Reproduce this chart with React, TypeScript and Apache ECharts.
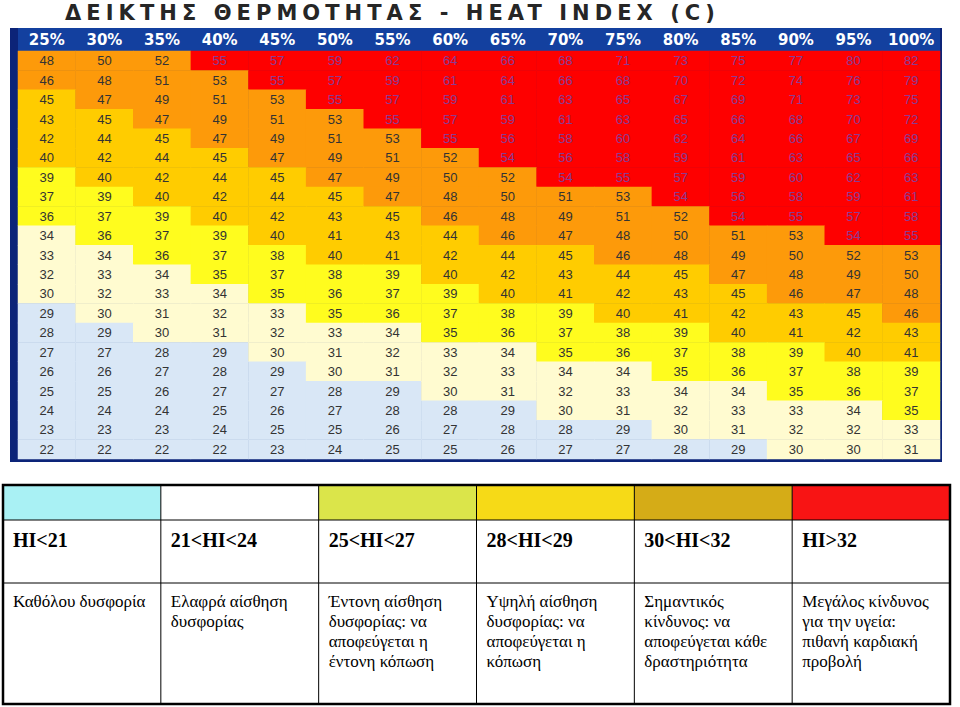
import React, { useEffect, useRef } from "react";
import * as echarts from "echarts";

// ---------- data ----------
const TITLE = "ΔΕΙΚΤΗΣ ΘΕΡΜΟΤΗΤΑΣ - HEAT INDEX (C)";

const humidityLabels = [
  "25%", "30%", "35%", "40%", "45%", "50%", "55%", "60%",
  "65%", "70%", "75%", "80%", "85%", "90%", "95%", "100%",
];

const rowIds = [
  "r1", "r2", "r3", "r4", "r5", "r6", "r7", "r8", "r9", "r10", "r11",
  "r12", "r13", "r14", "r15", "r16", "r17", "r18", "r19", "r20", "r21",
];

const heatIndexRows: number[][] = [
  [48, 50, 52, 55, 57, 59, 62, 64, 66, 68, 71, 73, 75, 77, 80, 82],
  [46, 48, 51, 53, 55, 57, 59, 61, 64, 66, 68, 70, 72, 74, 76, 79],
  [45, 47, 49, 51, 53, 55, 57, 59, 61, 63, 65, 67, 69, 71, 73, 75],
  [43, 45, 47, 49, 51, 53, 55, 57, 59, 61, 63, 65, 66, 68, 70, 72],
  [42, 44, 45, 47, 49, 51, 53, 55, 56, 58, 60, 62, 64, 66, 67, 69],
  [40, 42, 44, 45, 47, 49, 51, 52, 54, 56, 58, 59, 61, 63, 65, 66],
  [39, 40, 42, 44, 45, 47, 49, 50, 52, 54, 55, 57, 59, 60, 62, 63],
  [37, 39, 40, 42, 44, 45, 47, 48, 50, 51, 53, 54, 56, 58, 59, 61],
  [36, 37, 39, 40, 42, 43, 45, 46, 48, 49, 51, 52, 54, 55, 57, 58],
  [34, 36, 37, 39, 40, 41, 43, 44, 46, 47, 48, 50, 51, 53, 54, 55],
  [33, 34, 36, 37, 38, 40, 41, 42, 44, 45, 46, 48, 49, 50, 52, 53],
  [32, 33, 34, 35, 37, 38, 39, 40, 42, 43, 44, 45, 47, 48, 49, 50],
  [30, 32, 33, 34, 35, 36, 37, 39, 40, 41, 42, 43, 45, 46, 47, 48],
  [29, 30, 31, 32, 33, 35, 36, 37, 38, 39, 40, 41, 42, 43, 45, 46],
  [28, 29, 30, 31, 32, 33, 34, 35, 36, 37, 38, 39, 40, 41, 42, 43],
  [27, 27, 28, 29, 30, 31, 32, 33, 34, 35, 36, 37, 38, 39, 40, 41],
  [26, 26, 27, 28, 29, 30, 31, 32, 33, 34, 34, 35, 36, 37, 38, 39],
  [25, 25, 26, 27, 27, 28, 29, 30, 31, 32, 33, 34, 34, 35, 36, 37],
  [24, 24, 24, 25, 26, 27, 28, 28, 29, 30, 31, 32, 33, 33, 34, 35],
  [23, 23, 23, 24, 25, 25, 26, 27, 28, 28, 29, 30, 31, 32, 32, 33],
  [22, 22, 22, 22, 23, 24, 25, 25, 26, 27, 27, 28, 29, 30, 30, 31],
];

// upper bounds of the colour bands (last band is open-ended)
const bandMax = [29, 34, 39, 45, 53];
const cellColors = ["#d9e7f6", "#fffbd0", "#fffc1e", "#ffcc00", "#fd9a0a", "#fe0000"];

const legendColors = ["#a9f1f4", "#ffffff", "#dbe54a", "#f6da17", "#d5ac17", "#f81414"];
const legendLabels = ["HI<21", "21<HI<24", "25<HI<27", "28<HI<29", "30<HI<32", "HI>32"];
const legendDescriptions = [
  ["Καθόλου δυσφορία"],
  ["Ελαφρά αίσθηση", "δυσφορίας"],
  ["Έντονη αίσθηση", "δυσφορίας: να", "αποφεύγεται η", "έντονη κόπωση"],
  ["Υψηλή αίσθηση", "δυσφορίας: να", "αποφεύγεται η", "κόπωση"],
  ["Σημαντικός", "κίνδυνος: να", "αποφεύγεται κάθε", "δραστηριότητα"],
  ["Μεγάλος κίνδυνος", "για την υγεία:", "πιθανή καρδιακή", "προβολή"],
];

// ---------- layout ----------
const GRID_LEFT = 18;
const GRID_TOP = 51;
const GRID_W = 922;
const GRID_H = 408;
const TITLE_X = 65;
const TITLE_WIDTH = 650;
const LEG_X = 3;
const LEG_Y = 485;
const LEG_W = 947;
const LEG_H = 219;
const LEG_ROW1 = 520;
const LEG_ROW2 = 583;

export default function App() {
  const ref = useRef<HTMLDivElement>(null);

  useEffect(() => {
    document.body.style.margin = "0";
    const el = ref.current!;
    const chart = echarts.init(el, undefined, { renderer: "svg" });

    const redLimit = bandMax[bandMax.length - 1];
    const data: any[] = [];
    heatIndexRows.forEach((row, r) => {
      row.forEach((v, c) => {
        data.push({
          value: [c, r, v],
          label: { color: v > redLimit ? "#8a3c94" : "#333333" },
        });
      });
    });

    const pieces = cellColors.map((color, i) => {
      if (i === 0) return { lte: bandMax[0], color };
      if (i === cellColors.length - 1) return { gt: bandMax[i - 1], color };
      return { gt: bandMax[i - 1], lte: bandMax[i], color };
    });

    const colW = LEG_W / legendColors.length;
    const legendEls: any[] = [];
    legendColors.forEach((color, i) => {
      const x0 = LEG_X + i * colW;
      legendEls.push({
        type: "rect",
        shape: { x: x0, y: LEG_Y, width: colW, height: LEG_ROW1 - LEG_Y },
        style: { fill: color },
      });
      legendEls.push({
        type: "text",
        x: x0 + 10,
        y: 540,
        style: {
          text: legendLabels[i],
          font: "bold 20px 'Liberation Serif', 'Times New Roman', serif",
          fill: "#000",
          verticalAlign: "middle",
          align: "left",
        },
      });
      legendEls.push({
        type: "text",
        x: x0 + 10,
        y: 591,
        style: {
          text: legendDescriptions[i].join("\n"),
          font: "17px 'Liberation Serif', 'Times New Roman', serif",
          lineHeight: 20,
          fill: "#000",
          verticalAlign: "top",
          align: "left",
        },
      });
      if (i > 0) {
        legendEls.push({
          type: "line",
          shape: { x1: x0, y1: LEG_Y, x2: x0, y2: LEG_Y + LEG_H },
          style: { stroke: "#000", lineWidth: 1 },
        });
      }
    });
    [LEG_ROW1, LEG_ROW2].forEach((y) => {
      legendEls.push({
        type: "line",
        shape: { x1: LEG_X, y1: y, x2: LEG_X + LEG_W, y2: y },
        style: { stroke: "#000", lineWidth: 1 },
      });
    });
    legendEls.push({
      type: "rect",
      shape: { x: LEG_X, y: LEG_Y, width: LEG_W, height: LEG_H },
      style: { fill: "none", stroke: "#000", lineWidth: 2.5 },
    });

    const option: any = {
      animation: false,
      backgroundColor: "#ffffff",
      grid: { left: GRID_LEFT, top: GRID_TOP, width: GRID_W, height: GRID_H },
      xAxis: {
        type: "category",
        data: humidityLabels,
        position: "top",
        axisLine: { show: false },
        axisTick: { show: false },
        splitLine: { show: false },
        axisLabel: {
          color: "#ffffff",
          fontWeight: "bold",
          fontSize: 15,
          fontFamily: "'DejaVu Sans', Verdana, sans-serif",
          margin: 4,
          interval: 0,
        },
      },
      yAxis: {
        type: "category",
        data: rowIds,
        inverse: true,
        show: false,
      },
      visualMap: {
        type: "piecewise",
        show: false,
        dimension: 2,
        seriesIndex: 0,
        pieces,
      },
      graphic: [
        {
          type: "rect",
          z: -10,
          shape: { x: 10, y: 28, width: 932, height: 434 },
          style: { fill: "#0c2478" },
        },
        {
          type: "rect",
          z: -9,
          shape: { x: GRID_LEFT, y: 28, width: GRID_W, height: GRID_TOP - 28 },
          style: { fill: "#13409f" },
        },
        {
          type: "text",
          x: TITLE_X,
          y: 13,
          style: {
            text: TITLE,
            font: "bold 21px 'DejaVu Sans', Verdana, sans-serif",
            fill: "#262626",
            align: "left",
            verticalAlign: "middle",
          },
        },
        ...legendEls,
      ],
      series: [
        {
          type: "heatmap",
          data,
          label: {
            show: true,
            fontSize: 13,
            fontFamily: "'Liberation Sans', Arial, sans-serif",
            color: "#333333",
            formatter: (p: any) => String(p.value[2]),
          },
          itemStyle: { borderWidth: 0 },
          emphasis: { disabled: true },
        },
      ],
    };

    chart.setOption(option);

    const fixTitle = () => {
      el.querySelectorAll("text").forEach((t) => {
        if (t.textContent === TITLE && !t.getAttribute("data-ls")) {
          const st = t as unknown as SVGTextElement;
          st.setAttribute("letter-spacing", "0");
          const len = st.getComputedTextLength();
          const sp = Math.max(0, (TITLE_WIDTH - len) / (TITLE.length - 1));
          st.setAttribute("letter-spacing", sp.toFixed(2));
          st.setAttribute("data-ls", "1");
        }
      });
    };
    fixTitle();
    chart.on("finished", fixTitle);

    return () => {
      chart.dispose();
    };
  }, []);

  return <div ref={ref} style={{ width: 960, height: 707 }} />;
}
